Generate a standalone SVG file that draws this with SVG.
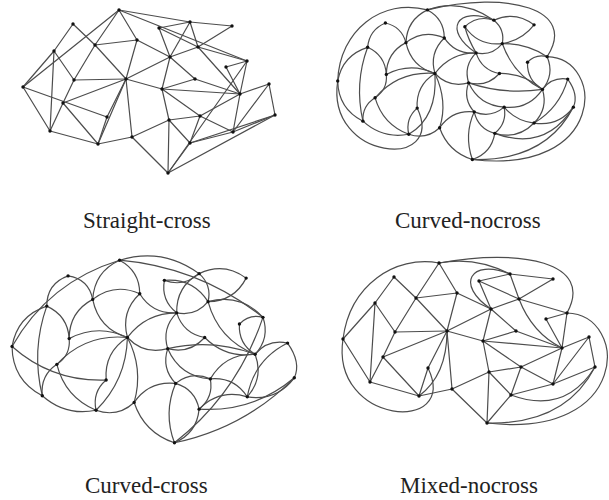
<svg xmlns="http://www.w3.org/2000/svg" width="609" height="500" viewBox="0 0 609 500">
<style>
.edges path{fill:none;stroke:#4d4d4d;stroke-width:1.2;vector-effect:non-scaling-stroke;stroke-linecap:round}
.node circle{fill:#111}
.lbl{font-family:"Liberation Serif","Times New Roman",serif;font-size:23px;fill:#222}
</style>
<rect width="609" height="500" fill="#fff"/>

<g id="straight-cross">
<g id="sc-edges" class="edges">
<path d="M119 10L95 45"/><path d="M119 10L137 40"/><path d="M119 10L23 87"/><path d="M119 10L190 22"/><path d="M119 10L247 61"/>
<path d="M73 24L54 51"/><path d="M73 24L95 45"/><path d="M95 45L137 40"/><path d="M95 45L74 80"/><path d="M95 45L126 79"/>
<path d="M137 40L126 79"/><path d="M137 40L170 57"/><path d="M54 51L23 87"/><path d="M54 51L74 80"/><path d="M54 51L50 131"/>
<path d="M23 87L50 131"/><path d="M23 87L107 117"/><path d="M63 103L50 131"/><path d="M63 103L74 80"/><path d="M63 103L126 79"/>
<path d="M63 103L98 144"/><path d="M50 131L98 144"/><path d="M74 80L126 79"/><path d="M126 79L107 117"/><path d="M126 79L98 144"/>
<path d="M126 79L132 137"/><path d="M126 79L170 57"/><path d="M126 79L162 89"/><path d="M107 117L98 144"/><path d="M159 28L190 22"/>
<path d="M159 28L198 47"/><path d="M159 28L170 57"/><path d="M190 22L232 26"/><path d="M190 22L198 47"/><path d="M190 22L170 57"/>
<path d="M232 26L198 47"/><path d="M198 47L247 61"/><path d="M198 47L240 94"/><path d="M198 47L170 57"/><path d="M247 61L226 67"/>
<path d="M247 61L240 94"/><path d="M226 67L240 94"/><path d="M170 57L162 89"/><path d="M170 57L195 79"/><path d="M195 79L162 89"/>
<path d="M195 79L240 94"/><path d="M162 89L240 94"/><path d="M162 89L169 120"/><path d="M162 89L200 116"/><path d="M200 116L240 94"/>
<path d="M200 116L233 132"/><path d="M200 116L190 143"/><path d="M169 120L200 116"/><path d="M240 94L233 132"/><path d="M240 94L269 84"/>
<path d="M269 84L275 115"/><path d="M233 132L275 115"/><path d="M233 132L269 84"/><path d="M169 120L132 137"/><path d="M169 120L190 143"/>
<path d="M169 120L168 173"/><path d="M132 137L168 173"/><path d="M190 143L168 173"/><path d="M168 173L275 115"/><path d="M233 132L190 143"/>
<path d="M190 143L275 115"/><path d="M132 137L98 144"/><path d="M247 61L168 173"/>
</g>
<g class="node" id="sc-A"><circle cx="119" cy="10" r="1.7"/></g>
<g class="node" id="sc-B"><circle cx="73" cy="24" r="1.7"/></g>
<g class="node" id="sc-C"><circle cx="190" cy="22" r="1.7"/></g>
<g class="node" id="sc-D"><circle cx="232" cy="26" r="1.7"/></g>
<g class="node" id="sc-E"><circle cx="159" cy="28" r="1.7"/></g>
<g class="node" id="sc-F"><circle cx="95" cy="45" r="1.7"/></g>
<g class="node" id="sc-G"><circle cx="137" cy="40" r="1.7"/></g>
<g class="node" id="sc-H"><circle cx="54" cy="51" r="1.7"/></g>
<g class="node" id="sc-I"><circle cx="198" cy="47" r="1.7"/></g>
<g class="node" id="sc-J"><circle cx="170" cy="57" r="1.7"/></g>
<g class="node" id="sc-K"><circle cx="247" cy="61" r="1.7"/></g>
<g class="node" id="sc-L"><circle cx="226" cy="67" r="1.7"/></g>
<g class="node" id="sc-M"><circle cx="74" cy="80" r="1.7"/></g>
<g class="node" id="sc-N"><circle cx="126" cy="79" r="1.7"/></g>
<g class="node" id="sc-O"><circle cx="195" cy="79" r="1.7"/></g>
<g class="node" id="sc-P"><circle cx="23" cy="87" r="1.7"/></g>
<g class="node" id="sc-Q"><circle cx="162" cy="89" r="1.7"/></g>
<g class="node" id="sc-R"><circle cx="269" cy="84" r="1.7"/></g>
<g class="node" id="sc-S"><circle cx="240" cy="94" r="1.7"/></g>
<g class="node" id="sc-T"><circle cx="63" cy="103" r="1.7"/></g>
<g class="node" id="sc-U"><circle cx="275" cy="115" r="1.7"/></g>
<g class="node" id="sc-V"><circle cx="107" cy="117" r="1.7"/></g>
<g class="node" id="sc-W"><circle cx="200" cy="116" r="1.7"/></g>
<g class="node" id="sc-X"><circle cx="169" cy="120" r="1.7"/></g>
<g class="node" id="sc-Y"><circle cx="50" cy="131" r="1.7"/></g>
<g class="node" id="sc-Z"><circle cx="233" cy="132" r="1.7"/></g>
<g class="node" id="sc-a"><circle cx="132" cy="137" r="1.7"/></g>
<g class="node" id="sc-b"><circle cx="98" cy="144" r="1.7"/></g>
<g class="node" id="sc-c"><circle cx="190" cy="143" r="1.7"/></g>
<g class="node" id="sc-d"><circle cx="168" cy="173" r="1.7"/></g>
</g>

<g id="curved-cross" transform="translate(-13.7 249) scale(1.12)">
<g id="cc-edges" class="edges">
<path d="M119 10Q96.5 20.3 95 45"/><path d="M119 10Q137 19.6 137 40"/><path d="M119 10Q55.6 29.3 23 87"/><path d="M119 10Q157.5 -1.75 190 22"/><path d="M119 10Q190.7 16.3 247 61"/>
<path d="M73 24Q54 30.9 54 51"/><path d="M73 24Q91.4 26.8 95 45"/><path d="M95 45Q114.5 29.9 137 40"/><path d="M95 45Q74 56.2 74 80"/><path d="M95 45Q100.3 71.3 126 79"/>
<path d="M137 40Q119.8 56.2 126 79"/><path d="M137 40Q148.4 58.4 170 57"/><path d="M54 51Q27.7 59.7 23 87"/><path d="M54 51Q72.7 59.5 74 80"/><path d="M54 51Q40 90.4 50 131"/>
<path d="M23 87Q23.3 117.1 50 131"/><path d="M23 87Q59 118.8 107 117"/><path d="M63 103Q48.1 113.1 50 131"/><path d="M63 103Q75.4 94.8 74 80"/><path d="M63 103Q88.5 75.25 126 79"/>
<path d="M63 103Q70.25 132.25 98 144"/><path d="M50 131Q70.75 149.5 98 144"/><path d="M74 80Q99.75 66.5 126 79"/><path d="M126 79Q105.1 92.3 107 117"/><path d="M126 79Q125 117.1 98 144"/>
<path d="M126 79Q140.6 106.8 132 137"/><path d="M126 79Q142.5 57 170 57"/><path d="M126 79Q141 94.8 162 89"/><path d="M107 117Q94.4 127.8 98 144"/><path d="M159 28Q176.3 34.3 190 22"/>
<path d="M159 28Q184.2 25.8 198 47"/><path d="M159 28Q155.8 45.8 170 57"/><path d="M190 22Q212.2 11.4 232 26"/><path d="M190 22Q201.5 32.1 198 47"/><path d="M190 22Q169.5 33.5 170 57"/>
<path d="M232 26Q221.3 46.7 198 47"/><path d="M198 47Q226.7 39.3 247 61"/><path d="M198 47Q207.25 81 240 94"/><path d="M198 47Q187 60.4 170 57"/><path d="M247 61Q234.7 57.7 226 67"/>
<path d="M247 61Q253.4 79.6 240 94"/><path d="M226 67Q224.9 84.7 240 94"/><path d="M170 57Q156.4 70.6 162 89"/><path d="M170 57Q175.9 75.5 195 79"/><path d="M195 79Q181.5 93.9 162 89"/>
<path d="M195 79Q213.75 97.75 240 94"/><path d="M162 89Q201.75 79.8 240 94"/><path d="M162 89Q156.2 106.6 169 120"/><path d="M162 89Q172.9 113.9 200 116"/><path d="M200 116Q213.4 93 240 94"/>
<path d="M200 116Q221.3 114.1 233 132"/><path d="M200 116Q203.1 132.5 190 143"/><path d="M169 120Q183.3 108.7 200 116"/><path d="M240 94Q247.9 115.1 233 132"/><path d="M240 94Q251.5 80.3 269 84"/>
<path d="M269 84Q281.3 101.3 275 115"/><path d="M233 132Q259.1 136.1 275 115"/><path d="M233 132Q239 99 269 84"/><path d="M169 120Q145.4 117.4 132 137"/><path d="M169 120Q186.4 125.2 190 143"/>
<path d="M169 120Q157.9 146.3 168 173"/><path d="M132 137Q141 164 168 173"/><path d="M190 143Q188 164.6 168 173"/><path d="M168 173Q230.2 160 275 115"/><path d="M233 132Q208.2 124.6 190 143"/>
<path d="M190 143Q238.1 146 275 115"/><path d="M132 137Q117.1 150.7 98 144"/><path d="M247 61Q224.3 128.9 168 173"/>
</g>
<g class="node" id="cc-A"><circle cx="119" cy="10" r="1.5"/></g>
<g class="node" id="cc-B"><circle cx="73" cy="24" r="1.5"/></g>
<g class="node" id="cc-C"><circle cx="190" cy="22" r="1.5"/></g>
<g class="node" id="cc-D"><circle cx="232" cy="26" r="1.5"/></g>
<g class="node" id="cc-E"><circle cx="159" cy="28" r="1.5"/></g>
<g class="node" id="cc-F"><circle cx="95" cy="45" r="1.5"/></g>
<g class="node" id="cc-G"><circle cx="137" cy="40" r="1.5"/></g>
<g class="node" id="cc-H"><circle cx="54" cy="51" r="1.5"/></g>
<g class="node" id="cc-I"><circle cx="198" cy="47" r="1.5"/></g>
<g class="node" id="cc-J"><circle cx="170" cy="57" r="1.5"/></g>
<g class="node" id="cc-K"><circle cx="247" cy="61" r="1.5"/></g>
<g class="node" id="cc-L"><circle cx="226" cy="67" r="1.5"/></g>
<g class="node" id="cc-M"><circle cx="74" cy="80" r="1.5"/></g>
<g class="node" id="cc-N"><circle cx="126" cy="79" r="1.5"/></g>
<g class="node" id="cc-O"><circle cx="195" cy="79" r="1.5"/></g>
<g class="node" id="cc-P"><circle cx="23" cy="87" r="1.5"/></g>
<g class="node" id="cc-Q"><circle cx="162" cy="89" r="1.5"/></g>
<g class="node" id="cc-R"><circle cx="269" cy="84" r="1.5"/></g>
<g class="node" id="cc-S"><circle cx="240" cy="94" r="1.5"/></g>
<g class="node" id="cc-T"><circle cx="63" cy="103" r="1.5"/></g>
<g class="node" id="cc-U"><circle cx="275" cy="115" r="1.5"/></g>
<g class="node" id="cc-V"><circle cx="107" cy="117" r="1.5"/></g>
<g class="node" id="cc-W"><circle cx="200" cy="116" r="1.5"/></g>
<g class="node" id="cc-X"><circle cx="169" cy="120" r="1.5"/></g>
<g class="node" id="cc-Y"><circle cx="50" cy="131" r="1.5"/></g>
<g class="node" id="cc-Z"><circle cx="233" cy="132" r="1.5"/></g>
<g class="node" id="cc-a"><circle cx="132" cy="137" r="1.5"/></g>
<g class="node" id="cc-b"><circle cx="98" cy="144" r="1.5"/></g>
<g class="node" id="cc-c"><circle cx="190" cy="143" r="1.5"/></g>
<g class="node" id="cc-d"><circle cx="168" cy="173" r="1.5"/></g>
</g>

<g id="mixed-nocross">
<g id="mn-edges" class="edges">
<path d="M439 263L416 298"/><path d="M439 263L457 293"/><path d="M439 263C395 255 350 285 343 339"/><path d="M439 263Q475 256 510 274"/><path d="M439 263C520 248 595 262 567 313"/>
<path d="M394 277L375 303"/><path d="M394 277L416 298"/><path d="M416 298L457 293"/><path d="M416 298L395 332"/><path d="M416 298L447 331"/>
<path d="M457 293L447 331"/><path d="M457 293L491 309"/><path d="M375 303L343 339"/><path d="M375 303L395 332"/><path d="M375 303L370 382"/>
<path d="M343 339L370 382"/><path d="M343 339C330 425 460 435 428 368"/><path d="M383 357L370 382"/><path d="M383 357L395 332"/><path d="M383 357L447 331"/>
<path d="M383 357L419 396"/><path d="M370 382L419 396"/><path d="M395 332L447 331"/><path d="M447 331L428 368"/><path d="M447 331Q447 375 419 396"/>
<path d="M447 331L452 389"/><path d="M447 331L491 309"/><path d="M447 331L483 341"/><path d="M428 368L419 396"/><path d="M479 281L510 274"/>
<path d="M479 281L519 299"/><path d="M479 281L491 309"/><path d="M510 274L553 279"/><path d="M510 274L519 299"/><path d="M510 274C470 258 455 285 491 309"/>
<path d="M553 279L519 299"/><path d="M519 299L567 313"/><path d="M519 299Q532 333 562 348"/><path d="M519 299L491 309"/><path d="M567 313L546 319"/>
<path d="M567 313L562 348"/><path d="M546 319L562 348"/><path d="M491 309L483 341"/><path d="M491 309L516 331"/><path d="M516 331L483 341"/>
<path d="M516 331L562 348"/><path d="M483 341L562 348"/><path d="M483 341L489 372"/><path d="M483 341L521 367"/><path d="M521 367L562 348"/>
<path d="M521 367L553 384"/><path d="M521 367L511 395"/><path d="M489 372L521 367"/><path d="M562 348L553 384"/><path d="M562 348L589 337"/>
<path d="M589 337L595 367"/><path d="M553 384L595 367"/><path d="M553 384L589 337"/><path d="M489 372L452 389"/><path d="M489 372L511 395"/>
<path d="M489 372L487 423"/><path d="M452 389L487 423"/><path d="M511 395L487 423"/><path d="M487 423Q565 425 595 367"/><path d="M553 384L511 395"/>
<path d="M511 395Q565 415 595 367"/><path d="M452 389L419 396"/><path d="M567 313C630 315 630 440 487 423"/>
</g>
<g class="node" id="mn-A"><circle cx="439" cy="263" r="1.7"/></g>
<g class="node" id="mn-B"><circle cx="394" cy="277" r="1.7"/></g>
<g class="node" id="mn-C"><circle cx="510" cy="274" r="1.7"/></g>
<g class="node" id="mn-D"><circle cx="553" cy="279" r="1.7"/></g>
<g class="node" id="mn-E"><circle cx="479" cy="281" r="1.7"/></g>
<g class="node" id="mn-F"><circle cx="416" cy="298" r="1.7"/></g>
<g class="node" id="mn-G"><circle cx="457" cy="293" r="1.7"/></g>
<g class="node" id="mn-H"><circle cx="375" cy="303" r="1.7"/></g>
<g class="node" id="mn-I"><circle cx="519" cy="299" r="1.7"/></g>
<g class="node" id="mn-J"><circle cx="491" cy="309" r="1.7"/></g>
<g class="node" id="mn-K"><circle cx="567" cy="313" r="1.7"/></g>
<g class="node" id="mn-L"><circle cx="546" cy="319" r="1.7"/></g>
<g class="node" id="mn-M"><circle cx="395" cy="332" r="1.7"/></g>
<g class="node" id="mn-N"><circle cx="447" cy="331" r="1.7"/></g>
<g class="node" id="mn-O"><circle cx="516" cy="331" r="1.7"/></g>
<g class="node" id="mn-P"><circle cx="343" cy="339" r="1.7"/></g>
<g class="node" id="mn-Q"><circle cx="483" cy="341" r="1.7"/></g>
<g class="node" id="mn-R"><circle cx="589" cy="337" r="1.7"/></g>
<g class="node" id="mn-S"><circle cx="562" cy="348" r="1.7"/></g>
<g class="node" id="mn-T"><circle cx="383" cy="357" r="1.7"/></g>
<g class="node" id="mn-U"><circle cx="595" cy="367" r="1.7"/></g>
<g class="node" id="mn-V"><circle cx="428" cy="368" r="1.7"/></g>
<g class="node" id="mn-W"><circle cx="521" cy="367" r="1.7"/></g>
<g class="node" id="mn-X"><circle cx="489" cy="372" r="1.7"/></g>
<g class="node" id="mn-Y"><circle cx="370" cy="382" r="1.7"/></g>
<g class="node" id="mn-Z"><circle cx="553" cy="384" r="1.7"/></g>
<g class="node" id="mn-a"><circle cx="452" cy="389" r="1.7"/></g>
<g class="node" id="mn-b"><circle cx="419" cy="396" r="1.7"/></g>
<g class="node" id="mn-c"><circle cx="511" cy="395" r="1.7"/></g>
<g class="node" id="mn-d"><circle cx="487" cy="423" r="1.7"/></g>
</g>

<g id="curved-nocross" transform="translate(17 -236) scale(0.935)">
<g id="cn-edges" class="edges">
<path d="M439 263Q417 273.6 416 298"/><path d="M439 263Q457 272.6 457 293"/><path d="M439 263C390 250 345 285 343 339"/><path d="M439 263Q475 250 510 274"/><path d="M439 263C525 242 600 262 567 313"/>
<path d="M394 277Q376.7 284.3 375 303"/><path d="M394 277Q411.3 280.9 416 298"/><path d="M416 298Q435 283.2 457 293"/><path d="M416 298Q395.3 308.7 395 332"/><path d="M416 298Q421.6 323.8 447 331"/>
<path d="M457 293Q440.6 309 447 331"/><path d="M457 293Q469.2 311.2 491 309"/><path d="M375 303Q348.2 311.4 343 339"/><path d="M375 303Q393.7 311.5 395 332"/><path d="M375 303Q360.65 341.75 370 382"/>
<path d="M343 339Q343.6 368.6 370 382"/><path d="M343 339C330 425 460 435 428 368"/><path d="M383 357Q369 365.6 370 382"/><path d="M383 357Q396.5 348.1 395 332"/><path d="M383 357Q408.5 328 447 331"/>
<path d="M383 357Q391.25 385.5 419 396"/><path d="M370 382Q391 401.25 419 396"/><path d="M395 332Q420.75 318.5 447 331"/><path d="M447 331Q426.4 343.8 428 368"/><path d="M447 331Q450 378 419 396"/>
<path d="M447 331Q461.1 361 452 389"/><path d="M447 331Q463.5 309 491 309"/><path d="M447 331Q462 346.8 483 341"/><path d="M428 368Q415.1 379.3 419 396"/><path d="M479 281Q492.4 268.2 510 274"/>
<path d="M479 281Q493.6 302 519 299"/><path d="M479 281Q482.2 293.8 491 309"/><path d="M510 274Q533 263.6 553 279"/><path d="M510 274Q522 283.8 519 299"/><path d="M510 274C470 258 455 285 491 309"/>
<path d="M553 279Q540 295.8 519 299"/><path d="M519 299Q545.1 298.8 567 313"/><path d="M519 299Q530.7 332.1 562 348"/><path d="M519 299Q508 312.4 491 309"/><path d="M567 313Q554.7 309.7 546 319"/>
<path d="M567 313Q575 332 562 348"/><path d="M546 319Q545.3 338.3 562 348"/><path d="M491 309Q477.4 322.6 483 341"/><path d="M491 309Q496.9 327.5 516 331"/><path d="M516 331Q502.5 345.9 483 341"/>
<path d="M516 331Q542.4 330.3 562 348"/><path d="M483 341Q521.7 354 562 348"/><path d="M483 341Q476.7 358.3 489 372"/><path d="M483 341Q494.2 365.4 521 367"/><path d="M521 367Q547.2 369.8 562 348"/>
<path d="M521 367Q533.6 381.9 553 384"/><path d="M521 367Q524.4 384 511 395"/><path d="M489 372Q506.5 379.1 521 367"/><path d="M562 348Q568.3 368.7 553 384"/><path d="M562 348Q572.2 334.4 589 337"/>
<path d="M589 337Q601 353.8 595 367"/><path d="M553 384Q579.1 388.1 595 367"/><path d="M553 384Q580.4 367.7 589 337"/><path d="M489 372Q465.4 369.4 452 389"/><path d="M489 372Q493.1 390.1 511 395"/>
<path d="M489 372Q477.8 397.1 487 423"/><path d="M452 389Q461 414.75 487 423"/><path d="M511 395Q507.4 416.2 487 423"/><path d="M487 423Q565 425 595 367"/><path d="M553 384Q535.3 402.1 511 395"/>
<path d="M511 395Q565 415 595 367"/><path d="M452 389Q437.6 402.4 419 396"/><path d="M567 313C630 315 630 440 487 423"/>
</g>
<g class="node" id="cn-A"><circle cx="439" cy="263" r="1.8"/></g>
<g class="node" id="cn-B"><circle cx="394" cy="277" r="1.8"/></g>
<g class="node" id="cn-C"><circle cx="510" cy="274" r="1.8"/></g>
<g class="node" id="cn-D"><circle cx="553" cy="279" r="1.8"/></g>
<g class="node" id="cn-E"><circle cx="479" cy="281" r="1.8"/></g>
<g class="node" id="cn-F"><circle cx="416" cy="298" r="1.8"/></g>
<g class="node" id="cn-G"><circle cx="457" cy="293" r="1.8"/></g>
<g class="node" id="cn-H"><circle cx="375" cy="303" r="1.8"/></g>
<g class="node" id="cn-I"><circle cx="519" cy="299" r="1.8"/></g>
<g class="node" id="cn-J"><circle cx="491" cy="309" r="1.8"/></g>
<g class="node" id="cn-K"><circle cx="567" cy="313" r="1.8"/></g>
<g class="node" id="cn-L"><circle cx="546" cy="319" r="1.8"/></g>
<g class="node" id="cn-M"><circle cx="395" cy="332" r="1.8"/></g>
<g class="node" id="cn-N"><circle cx="447" cy="331" r="1.8"/></g>
<g class="node" id="cn-O"><circle cx="516" cy="331" r="1.8"/></g>
<g class="node" id="cn-P"><circle cx="343" cy="339" r="1.8"/></g>
<g class="node" id="cn-Q"><circle cx="483" cy="341" r="1.8"/></g>
<g class="node" id="cn-R"><circle cx="589" cy="337" r="1.8"/></g>
<g class="node" id="cn-S"><circle cx="562" cy="348" r="1.8"/></g>
<g class="node" id="cn-T"><circle cx="383" cy="357" r="1.8"/></g>
<g class="node" id="cn-U"><circle cx="595" cy="367" r="1.8"/></g>
<g class="node" id="cn-V"><circle cx="428" cy="368" r="1.8"/></g>
<g class="node" id="cn-W"><circle cx="521" cy="367" r="1.8"/></g>
<g class="node" id="cn-X"><circle cx="489" cy="372" r="1.8"/></g>
<g class="node" id="cn-Y"><circle cx="370" cy="382" r="1.8"/></g>
<g class="node" id="cn-Z"><circle cx="553" cy="384" r="1.8"/></g>
<g class="node" id="cn-a"><circle cx="452" cy="389" r="1.8"/></g>
<g class="node" id="cn-b"><circle cx="419" cy="396" r="1.8"/></g>
<g class="node" id="cn-c"><circle cx="511" cy="395" r="1.8"/></g>
<g class="node" id="cn-d"><circle cx="487" cy="423" r="1.8"/></g>
</g>

<g id="labels">
<text class="lbl" x="83" y="228">Straight-cross</text>
<text class="lbl" x="395" y="228">Curved-nocross</text>
<text class="lbl" x="85" y="493">Curved-cross</text>
<text class="lbl" x="400" y="493">Mixed-nocross</text>
</g>
</svg>
